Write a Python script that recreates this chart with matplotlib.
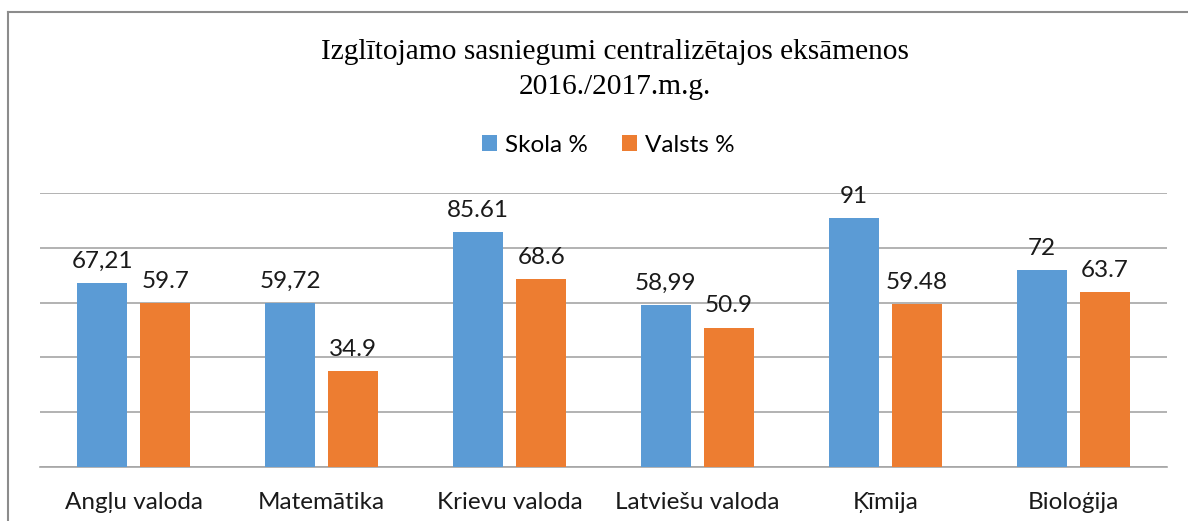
import numpy as np
import matplotlib.pyplot as plt
from matplotlib.lines import Line2D

# Exam results 2016./2017.
subjects = ["Angļu valoda", "Matemātika", "Krievu valoda",
            "Latviešu valoda", "Ķīmija", "Bioloģija"]
school_pct = [67.21, 59.72, 85.61, 58.99, 91, 72]
state_pct = [59.7, 34.9, 68.6, 50.9, 59.48, 63.7]
school_labels = ["67,21", "59,72", "85.61", "58,99", "91", "72"]
state_labels = ["59.7", "34.9", "68.6", "50.9", "59.48", "63.7"]

blue = "#5B9BD5"
orange = "#ED7D31"
grid_col = "#A6A6A6"
label_font = "Lato"
fsize = 17.5

fig = plt.figure(figsize=(11.88, 5.21), dpi=100)
ax = fig.add_axes([40 / 1188, 1 - 467 / 521, 1127 / 1188, 274 / 521])

x = np.arange(len(subjects))
bar_w = 0.266
offset = 0.168

bars1 = ax.bar(x - offset, school_pct, bar_w, color=blue, label="Skola %", zorder=3)
bars2 = ax.bar(x + offset, state_pct, bar_w, color=orange, label="Valsts %", zorder=3)

for rect, txt in zip(bars1, school_labels):
    ax.annotate(txt, (rect.get_x() + rect.get_width() / 2, rect.get_height()),
                xytext=(0, 8), textcoords="offset points", ha="center", va="bottom",
                fontsize=fsize, family=label_font, color="#1a1a1a")
for rect, txt in zip(bars2, state_labels):
    ax.annotate(txt, (rect.get_x() + rect.get_width() / 2, rect.get_height()),
                xytext=(0, 8), textcoords="offset points", ha="center", va="bottom",
                fontsize=fsize, family=label_font, color="#1a1a1a")

ax.set_xlim(-0.5, len(subjects) - 0.5)
ax.set_ylim(0, 100)
ax.set_yticks(np.arange(0, 101, 20))
ax.yaxis.grid(True, color=grid_col, linewidth=1.2, zorder=0)
ax.tick_params(axis="y", left=False, labelleft=False)
ax.set_xticks(x)
ax.set_xticklabels(subjects, fontsize=fsize, family=label_font, color="#1a1a1a")
ax.tick_params(axis="x", length=0, pad=18)
for side in ["top", "right", "left"]:
    ax.spines[side].set_visible(False)
ax.spines["bottom"].set_color(grid_col)
ax.spines["bottom"].set_linewidth(1.2)

fig.text(615 / 1188, 1 - 52 / 521, "Izglītojamo sasniegumi centralizētajos eksāmenos",
         ha="center", va="center", fontsize=21.2, family="Liberation Serif")
fig.text(615 / 1188, 1 - 87 / 521, "2016./2017.m.g.",
         ha="center", va="center", fontsize=21.2, family="Liberation Serif")

leg = fig.legend(handles=[bars1, bars2], loc="center", bbox_to_anchor=(608 / 1188, 1 - 145 / 521),
                 ncol=2, frameon=False, prop={"family": label_font, "size": fsize},
                 handlelength=0.65, handleheight=0.65, handletextpad=0.3, columnspacing=1.4)

# outer chart frame
fig.add_artist(Line2D([8 / 1188, 8 / 1188], [0, 1 - 12 / 521], color="#8C8C8C", linewidth=1.5))
fig.add_artist(Line2D([8 / 1188, 1], [1 - 12 / 521, 1 - 12 / 521], color="#8C8C8C", linewidth=1.5))

fig.savefig("out.png", dpi=100)
